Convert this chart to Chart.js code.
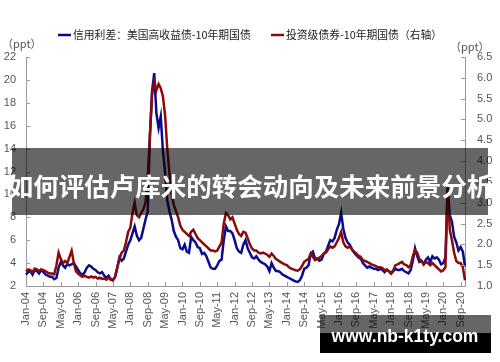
<!DOCTYPE html>
<html>
<head>
<meta charset="utf-8">
<script src="https://cdn.jsdelivr.net/npm/chart.js@4.4.1/dist/chart.umd.min.js"></script>
<style>
  html, body { margin: 0; padding: 0; background: #fff; }
  #wrap { width: 500px; height: 362px; position: relative; }
</style>
</head>
<body>
<div id="wrap"><canvas id="spreadchart" width="500" height="362"></canvas></div>
<script>
// month labels Jan-04 ... Nov-20
const monthNames = ["Jan", "Feb", "Mar", "Apr", "May", "Jun", "Jul", "Aug", "Sep", "Oct", "Nov", "Dec"];
const months = [];
for (let y = 4; y <= 20; y++) {
  for (let m = 0; m < 12; m++) {
    if (y === 20 && m > 10) break;
    months.push(monthNames[m] + "-" + String(y).padStart(2, "0"));
  }
}

// high yield - 10y treasury (left axis, ppt)
const hySpread = [
  3.0, 3.2, 3.3, 3.0, 3.4, 3.3, 3.1, 3.4, 3.2, 3.0, 2.9, 2.8, // 2004
  2.8, 2.6, 2.7, 3.6, 4.1, 3.8, 3.6, 3.9, 3.8, 3.9, 4.0, 3.7, // 2005
  3.4, 3.1, 3.0, 3.2, 3.6, 3.8, 3.7, 3.5, 3.4, 3.2, 3.1, 3.2, // 2006
  2.9, 2.7, 2.9, 2.6, 2.5, 2.8, 3.6, 4.5, 4.2, 4.4, 5.0, 5.6, // 2007
  6.0, 6.6, 7.2, 6.4, 6.0, 6.2, 7.0, 7.8, 8.5, 15.0, 19.0, 20.6, // 2008
  17.1, 15.8, 16.8, 13.8, 12.0, 9.5, 8.5, 7.8, 6.8, 6.3, 6.0, 5.3, // 2009
  5.2, 5.6, 5.0, 4.9, 6.3, 6.0, 5.8, 5.4, 5.3, 4.8, 4.9, 4.6, // 2010
  4.1, 3.6, 3.5, 3.5, 3.8, 4.2, 4.3, 6.0, 7.2, 6.8, 6.8, 6.6, // 2011
  6.0, 5.3, 5.0, 4.9, 5.6, 6.0, 5.3, 4.9, 4.5, 4.4, 4.6, 4.3, // 2012
  4.1, 4.0, 3.9, 3.7, 3.3, 4.0, 3.6, 3.3, 3.3, 3.2, 3.0, 2.9, // 2013
  2.8, 2.7, 2.6, 2.5, 2.4, 2.35, 2.5, 2.9, 3.5, 3.6, 3.8, 4.8, // 2014
  5.0, 4.4, 4.4, 4.2, 4.3, 4.8, 5.0, 5.5, 6.0, 5.9, 6.2, 6.9, // 2015
  7.4, 8.4, 7.0, 6.2, 5.8, 5.6, 5.2, 4.9, 4.7, 4.5, 4.4, 4.0, // 2016
  3.8, 3.6, 3.7, 3.6, 3.5, 3.5, 3.4, 3.5, 3.4, 3.2, 3.4, 3.3, // 2017
  3.1, 3.3, 3.5, 3.4, 3.4, 3.5, 3.3, 3.2, 3.1, 3.4, 4.2, 5.3, // 2018
  4.6, 4.1, 4.2, 3.9, 4.3, 4.5, 4.1, 4.6, 4.4, 4.5, 4.3, 3.9, // 2019
  4.0, 4.5, 10.6, 8.2, 7.6, 6.3, 5.8, 5.1, 5.4, 5.0, 3.7 // 2020
];

// investment grade - 10y treasury (right axis, ppt)
const igSpread = [
  1.35, 1.40, 1.38, 1.33, 1.42, 1.40, 1.36, 1.40, 1.38, 1.35, 1.32, 1.30, // 2004
  1.30, 1.28, 1.50, 1.80, 1.65, 1.55, 1.60, 1.55, 1.70, 1.85, 1.55, 1.35, // 2005
  1.30, 1.25, 1.22, 1.25, 1.22, 1.20, 1.23, 1.20, 1.22, 1.18, 1.20, 1.17, // 2006
  1.18, 1.15, 1.20, 1.15, 1.14, 1.22, 1.45, 1.65, 1.80, 1.85, 2.05, 2.30, // 2007
  2.40, 2.75, 3.00, 2.70, 2.65, 2.75, 2.85, 3.00, 3.60, 4.60, 5.60, 5.90, // 2008
  5.70, 5.85, 5.75, 5.55, 5.10, 4.30, 3.70, 3.20, 2.95, 2.80, 2.65, 2.45, // 2009
  2.35, 2.30, 2.25, 2.20, 2.30, 2.35, 2.25, 2.15, 2.10, 2.05, 2.00, 1.95, // 2010
  1.90, 1.85, 1.85, 1.83, 1.85, 1.95, 2.05, 2.50, 2.75, 2.70, 2.60, 2.65, // 2011
  2.50, 2.35, 2.25, 2.20, 2.30, 2.28, 2.15, 2.00, 1.90, 1.85, 1.85, 1.80, // 2012
  1.78, 1.80, 1.78, 1.75, 1.70, 1.78, 1.72, 1.65, 1.62, 1.58, 1.55, 1.52, // 2013
  1.50, 1.45, 1.42, 1.40, 1.38, 1.37, 1.40, 1.48, 1.58, 1.62, 1.65, 1.78, // 2014
  1.70, 1.62, 1.65, 1.68, 1.72, 1.78, 1.80, 1.88, 1.95, 1.92, 1.95, 2.05, // 2015
  2.15, 2.30, 2.05, 1.95, 1.92, 1.95, 1.88, 1.82, 1.78, 1.72, 1.70, 1.62, // 2016
  1.60, 1.58, 1.55, 1.52, 1.50, 1.48, 1.45, 1.45, 1.43, 1.38, 1.40, 1.35, // 2017
  1.30, 1.38, 1.50, 1.52, 1.55, 1.58, 1.52, 1.50, 1.45, 1.50, 1.72, 1.86, // 2018
  1.80, 1.65, 1.60, 1.52, 1.58, 1.55, 1.50, 1.55, 1.50, 1.45, 1.40, 1.35, // 2019
  1.38, 1.45, 3.38, 2.35, 2.10, 1.80, 1.60, 1.55, 1.55, 1.45, 1.14 // 2020
];

const hyLabel = "信用利差：美国高收益债-10年期国债";
const igLabel = "投资级债券-10年期国债（右轴）";
const titleText = "如何评估卢库米的转会动向及未来前景分析";
const siteText = "www.nb-k1ty.com";

const cjkFont = '"Noto Sans CJK SC", "Noto Sans", sans-serif';
const tickFont = { family: '"Liberation Sans", Arial, sans-serif', size: 11 };

// legend, units, inward ticks and the overlays
const decorPlugin = {
  id: "decor",
  afterDatasetsDraw(chart) {
    const ctx = chart.ctx;
    const s = chart.scales;
    ctx.save();
    ctx.strokeStyle = "#999";
    ctx.lineWidth = 1;
    ctx.beginPath();
    s.y.ticks.forEach((t) => {
      const py = Math.round(s.y.getPixelForValue(t.value)) + 0.5;
      ctx.moveTo(s.y.right, py);
      ctx.lineTo(s.y.right + 4, py);
    });
    s.y2.ticks.forEach((t) => {
      const py = Math.round(s.y2.getPixelForValue(t.value)) + 0.5;
      ctx.moveTo(s.y2.left, py);
      ctx.lineTo(s.y2.left - 4, py);
    });
    for (let i = 0; i < months.length; i += 8) {
      const px = Math.round(s.x.getPixelForValue(i)) + 0.5;
      ctx.moveTo(px, s.x.top);
      ctx.lineTo(px, s.x.top - 4);
    }
    ctx.stroke();
    ctx.restore();
  },
  afterDraw(chart) {
    const ctx = chart.ctx;
    ctx.save();
    // units
    ctx.fillStyle = "#555";
    ctx.font = "11px " + cjkFont;
    ctx.textBaseline = "middle";
    ctx.textAlign = "left";
    ctx.fillText("（ppt）", 2, 44);
    ctx.fillText("（ppt）", 450, 47);

    // legend
    ctx.font = "10.8px " + cjkFont;
    ctx.fillStyle = "#222";
    const items = [
      { x: 58, ds: chart.data.datasets[0] },
      { x: 271, ds: chart.data.datasets[1] },
    ];
    items.forEach((it) => {
      ctx.strokeStyle = it.ds.borderColor;
      ctx.lineWidth = 2.5;
      ctx.beginPath();
      ctx.moveTo(it.x, 35);
      ctx.lineTo(it.x + 13, 35);
      ctx.stroke();
      ctx.fillText(it.ds.label, it.x + 15, 35);
    });

    // title banner
    ctx.fillStyle = "rgba(0,0,0,0.6)";
    ctx.fillRect(12, 148, 476, 67);
    ctx.fillStyle = "#fff";
    ctx.font = "bold 25.5px " + cjkFont;
    ctx.textAlign = "center";
    ctx.fillText(titleText, 250, 186);

    // site watermark
    ctx.fillStyle = "rgba(0,0,0,0.6)";
    ctx.fillRect(320, 315, 171, 18);
    ctx.fillStyle = "#000";
    ctx.fillRect(320, 333, 171, 20);
    ctx.fillStyle = "#fff";
    ctx.font = 'bold 17.5px "Liberation Sans", Arial, sans-serif';
    ctx.fillText(siteText, 405, 337);
    ctx.restore();
  },
};

var spreadCanvas = document.getElementById("spreadchart").getContext("2d");
var spreadChart = new Chart(spreadCanvas, {
  type: "line",
  data: {
    labels: months,
    datasets: [
      {
        label: hyLabel,
        data: hySpread,
        borderColor: "#0b0b8e",
        borderWidth: 2.5,
        pointRadius: 0,
        yAxisID: "y",
        order: 2,
      },
      {
        label: igLabel,
        data: igSpread,
        borderColor: "#8b0a0a",
        borderWidth: 2.5,
        pointRadius: 0,
        yAxisID: "y2",
        order: 1,
      },
    ],
  },
  options: {
    responsive: false,
    animation: false,
    layout: { padding: { top: 57, bottom: 6, left: 0, right: 0 } },
    plugins: {
      legend: { display: false },
      tooltip: { enabled: false },
    },
    scales: {
      x: {
        type: "category",
        offset: false,
        grid: { display: false, drawTicks: false },
        border: { color: "#999" },
        ticks: {
          autoSkip: false,
          maxRotation: 90,
          minRotation: 90,
          padding: 6,
          color: "#555",
          font: tickFont,
          callback: (v, i) => (i % 8 === 0 ? months[i] : null),
        },
        afterFit: (scale) => {
          scale.height = 70;
        },
      },
      y: {
        position: "left",
        min: 2,
        max: 22,
        grid: { display: false, drawTicks: false },
        border: { color: "#999" },
        ticks: { stepSize: 2, padding: 10, color: "#555", font: tickFont },
        afterFit: (scale) => {
          scale.width = 26;
        },
      },
      y2: {
        position: "right",
        min: 1,
        max: 6.5,
        grid: { display: false, drawTicks: false },
        border: { color: "#999" },
        ticks: {
          stepSize: 0.5,
          padding: 12,
          color: "#555",
          font: tickFont,
          callback: (v) => v.toFixed(1),
        },
        afterFit: (scale) => {
          scale.width = 35;
        },
      },
    },
  },
  plugins: [decorPlugin],
});
</script>
</body>
</html>
